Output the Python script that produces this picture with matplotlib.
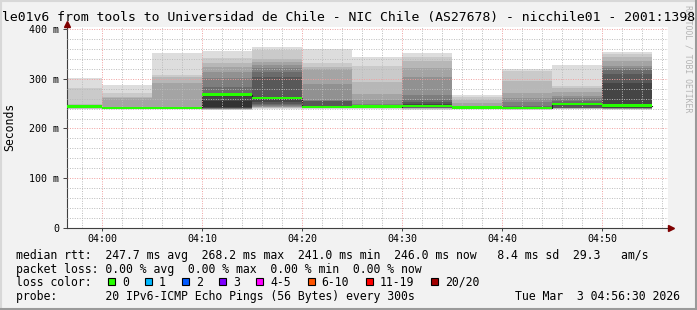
import matplotlib
matplotlib.use("Agg")
import matplotlib.pyplot as plt
from matplotlib.patches import Rectangle
from matplotlib.lines import Line2D
from matplotlib.ticker import MultipleLocator, FuncFormatter
import numpy as np

plt.rcParams['font.family'] = ['DejaVu Sans Mono']

W, H = 697, 310

# start of each 5 minute step, minutes relative to 04:00
bar_start = [-5, 0, 5, 10, 15, 20, 25, 30, 35, 40, 45, 50]
bar_width = 5

# 20 sorted ping rtts (ms) per step
pings = [
    [239, 240, 241, 241.5, 242, 242.5, 243, 243.5, 244, 244.5, 245, 245.5, 246, 246.5, 247, 247.5, 248, 249, 281, 301],
    [240, 240, 240, 240.5, 240.5, 240.5, 241, 241, 241, 241, 241, 241.5, 241.5, 242, 242, 242.5, 261, 264, 271, 287],
    [240, 240, 240, 240.5, 240.5, 240.5, 241, 241, 241, 241, 241, 241.5, 241.5, 242, 242, 243, 292, 303, 307, 352],
    [237, 238, 238.5, 239, 239.5, 240, 240.5, 241, 241.5, 243, 255, 266, 270, 283, 301, 313, 323, 332, 341, 356],
    [239, 241, 242, 243, 244, 245, 247, 250, 254, 260, 262, 264, 304, 314, 321, 327, 333, 339, 358, 364],
    [240, 240.5, 241, 241.5, 242, 242, 242.5, 243, 243, 243.5, 244, 245, 255, 256, 257, 289, 320, 324, 331, 360],
    [240, 240.5, 241, 241.5, 242, 242.5, 243, 243, 243.5, 244, 244.5, 245, 245.5, 246, 248.5, 257, 269, 293, 326, 344],
    [238, 239, 240, 240.5, 241, 241.5, 242, 242.5, 243, 244, 246, 249, 253, 257, 267, 303, 321, 335, 343, 352],
    [239, 239.5, 240, 240, 240.5, 240.5, 241, 241, 241.5, 242, 242.5, 243, 243.5, 244, 245, 246, 250.5, 257, 263, 267],
    [238, 238.5, 239, 239.5, 240, 240, 240.5, 240.5, 241, 241, 241.5, 242, 243, 245, 253, 261, 271, 296, 316, 319],
    [239, 239.5, 240, 240.5, 240.5, 241, 241, 241.5, 247.5, 248.5, 249.5, 250.5, 252, 256, 261, 265, 274, 281, 285, 327.6],
    [238, 238.5, 239, 239.5, 240, 240.5, 241, 241, 241.5, 244, 247.5, 292, 309, 318, 322, 326, 335, 343, 349, 353],
]
medians = [244, 241, 241, 268.2, 261, 243, 244, 245, 242, 241, 249, 246]
loss_idx = [0, 0, 0, 0, 0, 0, 0, 0, 0, 0, 0, 0]

loss_labels = ["0", "1", "2", "3", "4-5", "6-10", "11-19", "20/20"]
loss_colors = ["#26ff00", "#00b8ff", "#0059ff", "#7e00ff", "#ff00ff", "#ff5500", "#ff0000", "#a10000"]

title = "le01v6 from tools to Universidad de Chile - NIC Chile (AS27678) - nicchile01 - 2001:1398"
rtt_line = "median rtt:  247.7 ms avg  268.2 ms max  241.0 ms min  246.0 ms now   8.4 ms sd  29.3   am/s"
loss_line = "packet loss: 0.00 % avg  0.00 % max  0.00 % min  0.00 % now"
probe_line = "probe:       20 IPv6-ICMP Echo Pings (56 Bytes) every 300s"
stamp = "Tue Mar  3 04:56:30 2026"


def fx(px):
    return px / W


def fy(py):
    return 1 - py / H


fig = plt.figure(figsize=(W / 100, H / 100), dpi=100, facecolor="#f2f2f2")
ax = fig.add_axes([fx(67), fy(228), (668 - 67) / W, (228 - 26.5) / H])
ax.set_facecolor("white")

# smoke: band i between ping i and ping N+1-i, darker towards the middle
half = 10
for s, p in zip(bar_start, pings):
    p = np.sort(p)
    for k in range(len(p) - 1):
        band = min(k + 1, len(p) - 1 - k)
        g = (int(190 / half * (half - band)) + 50) / 255
        ax.bar(s, p[k + 1] - p[k], bottom=p[k], width=bar_width, align="edge",
               color=(g, g, g), linewidth=0, zorder=1)

# median: thin dark step line plus loss coloured band
edges = bar_start + [bar_start[-1] + bar_width]
ax.step(edges, medians + [medians[-1]], where="post", color="#202020", lw=0.8, zorder=2)
ax.bar(bar_start, 5, bottom=np.array(medians) - 2.5, width=bar_width, align="edge",
       color=[loss_colors[i] for i in loss_idx], linewidth=0, zorder=3)

ax.set_xlim(-3.5, 56.6)
ax.set_ylim(0, 405)
ax.xaxis.set_major_locator(MultipleLocator(10))
ax.xaxis.set_minor_locator(MultipleLocator(2))
ax.yaxis.set_major_locator(MultipleLocator(100))
ax.yaxis.set_minor_locator(MultipleLocator(20))
ax.xaxis.set_major_formatter(FuncFormatter(lambda v, pos: "%02d:%02d" % divmod(240 + int(v), 60)))
ax.yaxis.set_major_formatter(FuncFormatter(lambda v, pos: "0" if v == 0 else "%d m" % v))

ax.set_axisbelow(False)
ax.grid(which="minor", color="#bbbbbb", linestyle=(0, (1, 1.5)), lw=0.7)
ax.grid(which="major", color="#f0a0a0", linestyle=(0, (1, 1.5)), lw=0.7)

ax.tick_params(axis="both", which="minor", length=0)
ax.tick_params(axis="y", which="major", length=3, width=0.7, color="#404040", pad=2.5, labelsize=7.2)
ax.tick_params(axis="x", which="major", length=2, width=0.7, color="#404040", pad=2.5, labelsize=7.2)
for side in ["top", "right"]:
    ax.spines[side].set_visible(False)
for side in ["left", "bottom"]:
    ax.spines[side].set_color("#404040")
    ax.spines[side].set_linewidth(0.8)

# axis arrows
ax.plot(0, 1 + 3 / 201.5, marker="^", ms=4.5, color="#7f0000", transform=ax.transAxes, clip_on=False, zorder=5)
ax.plot(1 + 3 / 601, 0, marker=">", ms=4.5, color="#7f0000", transform=ax.transAxes, clip_on=False, zorder=5)

# texts
fig.text(fx(688), fy(5), "RRDTOOL / TOBI OETIKER", rotation=270, ha="center", va="top",
         fontsize=5.9, color="#b4b4b4")
fig.text(0.5, fy(17), title, ha="center", va="center", fontsize=9.45)
fig.text(fx(10), fy(127), "Seconds", rotation=90, ha="center", va="center", fontsize=8.3)

fig.text(fx(16), fy(258.5), rtt_line, va="baseline", fontsize=8.3)
fig.text(fx(16), fy(272.5), loss_line, va="baseline", fontsize=8.3)
fig.text(fx(16), fy(285.5), "loss color:", va="baseline", fontsize=8.3)
fig.text(fx(16), fy(300), probe_line, va="baseline", fontsize=8.3)
fig.text(fx(680), fy(300), stamp, ha="right", va="baseline", fontsize=8.3)

sx = 108
for lab, col in zip(loss_labels, loss_colors):
    fig.add_artist(Rectangle((fx(sx), fy(284.5)), 7 / W, 7 / H, facecolor=col, edgecolor="black",
                             lw=0.8, transform=fig.transFigure))
    fig.text(fx(sx + 14), fy(285.5), lab, va="baseline", fontsize=8.3)
    sx += (len(lab) + 4.3) * 7

# 3d frame round the image
fig.add_artist(Line2D([0, 1], [fy(0.5), fy(0.5)], color="#d8d8d8", lw=1.5, transform=fig.transFigure))
fig.add_artist(Line2D([fx(0.5), fx(0.5)], [0, 1], color="#d8d8d8", lw=1.5, transform=fig.transFigure))
fig.add_artist(Line2D([0, 1], [fy(309), fy(309)], color="#9a9a9a", lw=1.5, transform=fig.transFigure))
fig.add_artist(Line2D([fx(696), fx(696)], [0, 1], color="#9a9a9a", lw=1.5, transform=fig.transFigure))

fig.savefig("out.png", dpi=100, facecolor=fig.get_facecolor())
